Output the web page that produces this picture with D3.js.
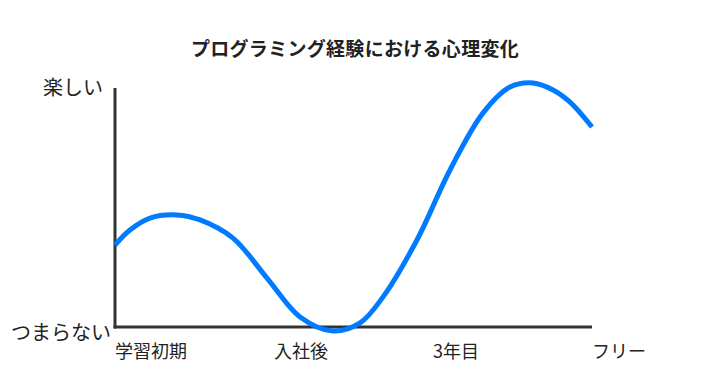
<!DOCTYPE html>
<meta charset="utf-8">
<style>
body { margin: 0; background: #fff; }
text { font-family: "Noto Sans CJK JP", "Noto Sans", sans-serif; fill: #222; }
.title { font-size: 19px; font-weight: bold; letter-spacing: 0.3px; }
.axis-line { stroke: #333; stroke-width: 3; }
.feeling { fill: none; stroke: #007bff; stroke-width: 5; }
</style>
<body>
<script src="https://cdn.jsdelivr.net/npm/d3@7"></script>
<script>

var stages = ["学習初期", "入社後", "3年目", "フリー"];
var moodLabels = ["つまらない", "楽しい"];
// time in stage units (0 = 学習初期 … 3 = フリー), mood 0 = つまらない, 100 = 楽しい
var timeX = [0, 0.094, 0.22, 0.39, 0.535, 0.742, 0.956, 1.164, 1.371, 1.541, 1.686, 1.899, 2.107, 2.314, 2.484, 2.629, 2.755, 2.862, 3.0];
var moodY = [34.3, 40.6, 45.6, 46.9, 44.8, 37.2, 20.5, 4.2, -1.7, 1.7, 12.6, 36.4, 65.7, 89.5, 100.4, 102.1, 99.2, 94.1, 83.7];

var width = 710, height = 385;

var svg = d3.select("body").append("svg")
    .attr("width", width)
    .attr("height", height);

var x = d3.scaleLinear().domain([0, 3]).range([115, 592]);
var y = d3.scaleLinear().domain([0, 100]).range([327, 88]);

svg.append("text")
    .attr("class", "title")
    .attr("x", 355).attr("y", 56)
    .attr("text-anchor", "middle")
    .text("プログラミング経験における心理変化");

// axes as plain lines
svg.append("line").attr("class", "axis-line")
    .attr("x1", x(0)).attr("x2", x(0))
    .attr("y1", y(100)).attr("y2", y(0) + 1.5);
svg.append("line").attr("class", "axis-line")
    .attr("x1", x(0) - 1.5).attr("x2", x(3))
    .attr("y1", y(0)).attr("y2", y(0));

// stage labels, left aligned on each stage
svg.selectAll("text.stage")
    .data(stages)
  .enter().append("text")
    .attr("class", "stage")
    .attr("x", function(d, i) { return x(i); })
    .attr("y", 358)
    .style("font-size", "18px")
    .text(function(d) { return d; });

svg.append("text")
    .attr("x", 103).attr("y", y(100) + 7)
    .attr("text-anchor", "end")
    .style("font-size", "20px")
    .text(moodLabels[1]);
svg.append("text")
    .attr("x", 111).attr("y", y(0) + 13)
    .attr("text-anchor", "end")
    .style("font-size", "20px")
    .text(moodLabels[0]);

var line = d3.line()
    .x(function(d) { return x(d[0]); })
    .y(function(d) { return y(d[1]); })
    .curve(d3.curveCatmullRom);

svg.append("path")
    .attr("class", "feeling")
    .attr("d", line(d3.zip(timeX, moodY)));

</script>
</body>
